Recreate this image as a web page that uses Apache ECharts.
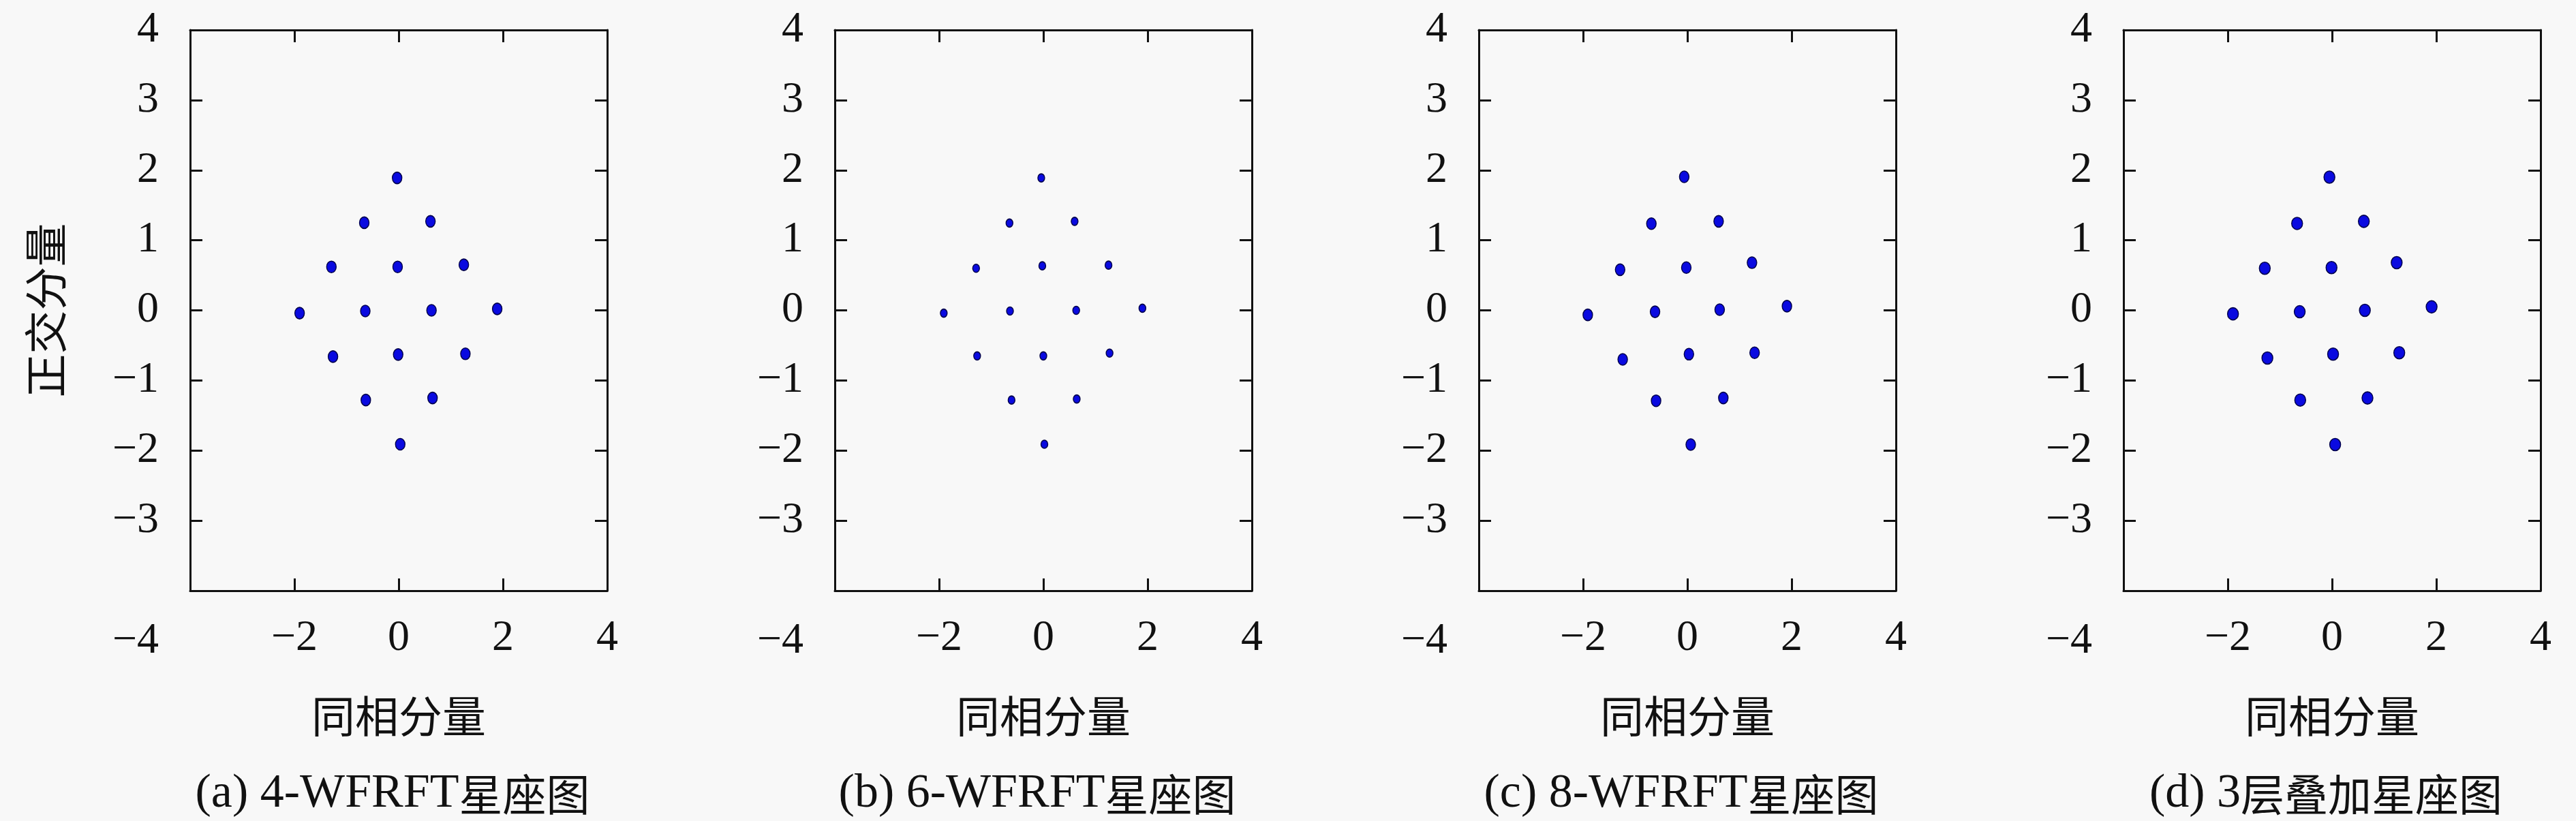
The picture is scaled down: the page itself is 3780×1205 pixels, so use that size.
<!DOCTYPE html>
<html><head><meta charset="utf-8">
<script src="https://cdn.jsdelivr.net/npm/echarts@6/dist/echarts.min.js"></script>
<style>html,body{margin:0;padding:0;background:#f8f8f8}#c{width:3780px;height:1205px}</style>
</head><body><div id="c"></div>
<script>
const panelLetters = ['(a) 4-WFRFT', '(b) 6-WFRFT', '(c) 8-WFRFT', '(d) 3'];
const panelCjk = ['星座图', '星座图', '星座图', '层叠加星座图'];
const xAxisName = '同相分量';
const yAxisName = '正交分量';
const xTickLabels = [-2, 0, 2, 4];
const yTickLabels = [-4, -3, -2, -1, 0, 1, 2, 3, 4];

const inPhaseA = [-0.03, -0.66, 0.61, -1.29, -0.02, 1.25, -1.90, -0.64, 0.63, 1.89, -1.26, -0.01, 1.28, -0.63, 0.65, 0.03];
const quadA    = [1.89, 1.25, 1.27, 0.62, 0.62, 0.65, -0.04, -0.01, 0.00, 0.02, -0.66, -0.63, -0.62, -1.28, -1.25, -1.91];
const inPhaseB = [-0.04, -0.65, 0.60, -1.29, -0.02, 1.25, -1.91, -0.64, 0.63, 1.90, -1.27, 0.00, 1.27, -0.61, 0.64, 0.02];
const quadB    = [1.89, 1.245, 1.27, 0.60, 0.635, 0.645, -0.04, -0.01, 0.00, 0.03, -0.65, -0.65, -0.61, -1.28, -1.265, -1.91];
const inPhaseC = [-0.06, -0.69, 0.60, -1.29, -0.02, 1.24, -1.91, -0.62, 0.62, 1.91, -1.24, 0.03, 1.29, -0.60, 0.69, 0.065];
const quadC    = [1.905, 1.237, 1.27, 0.58, 0.61, 0.68, -0.065, -0.02, 0.01, 0.06, -0.70, -0.625, -0.605, -1.29, -1.25, -1.915];
const inPhaseD = [-0.05, -0.67, 0.61, -1.29, -0.01, 1.24, -1.90, -0.62, 0.63, 1.91, -1.24, 0.02, 1.29, -0.61, 0.68, 0.06];
const quadD    = [1.90, 1.24, 1.27, 0.60, 0.61, 0.68, -0.05, -0.02, 0.00, 0.05, -0.68, -0.625, -0.605, -1.28, -1.25, -1.915];

const panels = [
  { i: inPhaseA, q: quadA, size: [14, 17] },
  { i: inPhaseB, q: quadB, size: [10, 12] },
  { i: inPhaseC, q: quadC, size: [14, 17] },
  { i: inPhaseD, q: quadD, size: [16, 18] }
];

const lefts = [279, 1225, 2170, 3116];
const W = 612, TOP = 44, H = 823;
const serif = '"Liberation Serif", "Noto Sans CJK SC", serif';
const cjk = '"Noto Sans CJK SC", sans-serif';
const fmt = v => String(v).replace('-', '\u2212');
const lineStyle = { color: '#111', width: 3 };
const tickStyle = { show: true, inside: true, length: 18, lineStyle: { color: '#111', width: 3 } };

const grid = [], xAxis = [], yAxis = [], series = [], title = [];
panels.forEach((p, k) => {
  grid.push({ left: lefts[k], top: TOP, width: W, height: H, show: false });
  xAxis.push({
    type: 'value', gridIndex: k, min: -4, max: 4, interval: 2, position: 'bottom',
    axisLine: { show: true, onZero: false, lineStyle }, axisTick: tickStyle, splitLine: { show: false },
    axisLabel: { margin: 38, fontSize: 64, fontFamily: serif, color: '#111',
      formatter: v => xTickLabels.includes(v) ? fmt(v) : '' },
    name: xAxisName, nameLocation: 'middle', nameGap: 152,
    nameTextStyle: { fontSize: 64, fontFamily: cjk, color: '#111' }
  });
  xAxis.push({
    type: 'value', gridIndex: k, min: -4, max: 4, interval: 2, position: 'top',
    axisLine: { show: true, onZero: false, lineStyle }, axisTick: tickStyle, splitLine: { show: false },
    axisLabel: { show: false }
  });
  yAxis.push({
    type: 'value', gridIndex: k, min: -4, max: 4, interval: 1, position: 'left',
    axisLine: { show: true, onZero: false, lineStyle }, axisTick: tickStyle, splitLine: { show: false },
    axisLabel: { margin: 46, fontSize: 64, fontFamily: serif, color: '#111',
      formatter: v => v === -4 ? '{low|' + fmt(v) + '}' : (yTickLabels.includes(v) ? fmt(v) : ''),
      rich: { low: { fontSize: 64, fontFamily: serif, color: '#111', padding: [148, 0, 0, 0] } } },
    name: k === 0 ? yAxisName : '', nameLocation: 'middle', nameGap: 180,
    nameTextStyle: { fontSize: 64, fontFamily: cjk, color: '#111' }
  });
  yAxis.push({
    type: 'value', gridIndex: k, min: -4, max: 4, interval: 1, position: 'right',
    axisLine: { show: true, onZero: false, lineStyle }, axisTick: tickStyle, splitLine: { show: false },
    axisLabel: { show: false }
  });
  series.push({
    type: 'scatter', xAxisIndex: 2 * k, yAxisIndex: 2 * k,
    data: p.i.map((x, j) => [x, p.q[j]]),
    symbol: 'circle', symbolSize: p.size,
    itemStyle: { color: '#0a0ae0', borderColor: '#00004a', borderWidth: 1.5, opacity: 1 },
    silent: true, animation: false
  });
  title.push({
    text: '{l|' + panelLetters[k] + '}{c|' + panelCjk[k] + '}',
    left: lefts[k] + W / 2 - 14, top: 1126, textAlign: 'center',
    textStyle: { fontSize: 64, fontWeight: 'normal', fontFamily: serif, color: '#111',
      rich: {
        l: { fontSize: 70, fontFamily: serif, color: '#111' },
        c: { fontSize: 64, fontFamily: cjk, color: '#111' }
      } }
  });
});

const chart = echarts.init(document.getElementById('c'));
chart.setOption({ backgroundColor: '#f8f8f8', animation: false, title, grid, xAxis, yAxis, series });
</script></body></html>
